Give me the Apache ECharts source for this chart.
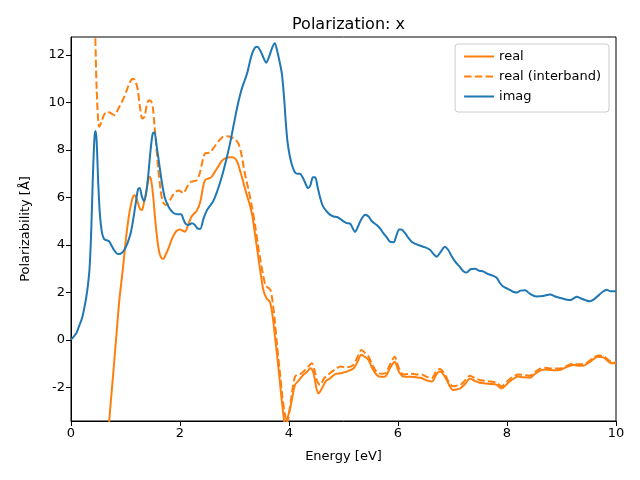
<!DOCTYPE html>
<html>
<head>
<meta charset="utf-8">
<script src="https://cdn.jsdelivr.net/npm/echarts@6/dist/echarts.min.js"></script>
<style>html,body{margin:0;padding:0;background:#fff}#c{width:640px;height:480px}</style>
</head>
<body>
<div id="c"></div>
<script>
const imagE = [0,0.1,0.15,0.2,0.24,0.28,0.31,0.34,0.37,0.40,0.43,0.45,0.47,0.50,0.53,0.57,0.61,0.66,0.70,0.75,0.80,0.86,0.92,0.98,1.04,1.10,1.15,1.19,1.23,1.26,1.30,1.34,1.38,1.42,1.46,1.50,1.53,1.57,1.62,1.67,1.72,1.77,1.82,1.88,1.95,2.02,2.06,2.10,2.15,2.22,2.27,2.32,2.37,2.43,2.49,2.55,2.61,2.68,2.77,2.85,2.92,2.98,3.04,3.10,3.15,3.19,3.24,3.28,3.33,3.38,3.42,3.47,3.52,3.58,3.63,3.69,3.74,3.78,3.82,3.87,3.91,3.94,3.97,4.01,4.05,4.1,4.15,4.2,4.25,4.3,4.35,4.39,4.44,4.48,4.52,4.57,4.62,4.68,4.75,4.82,4.88,4.94,5.0,5.06,5.12,5.17,5.21,5.27,5.33,5.40,5.46,5.52,5.61,5.67,5.73,5.80,5.85,5.92,5.97,6.02,6.06,6.13,6.19,6.25,6.32,6.40,6.50,6.59,6.66,6.71,6.78,6.86,6.92,6.98,7.05,7.12,7.20,7.26,7.33,7.41,7.49,7.57,7.65,7.73,7.81,7.87,7.93,7.99,8.06,8.12,8.18,8.25,8.33,8.42,8.54,8.66,8.79,8.9,9.02,9.1,9.16,9.22,9.28,9.36,9.44,9.52,9.60,9.68,9.75,9.83,9.9,10.0];
const imagV = [0.02,0.3,0.6,0.9,1.3,1.8,2.3,3.0,4.5,6.8,8.5,8.8,8.4,6.6,5.3,4.5,4.25,4.2,4.15,3.95,3.75,3.62,3.65,3.8,4.1,4.55,5.2,5.8,6.35,6.4,6.05,5.85,6.2,7.0,8.0,8.7,8.75,8.2,7.4,6.6,6.0,5.7,5.5,5.35,5.3,5.3,5.1,4.9,4.84,4.92,4.85,4.7,4.68,5.1,5.45,5.65,5.85,6.25,6.9,7.6,8.3,9.0,9.7,10.3,10.7,10.95,11.3,11.7,12.1,12.32,12.35,12.2,11.95,11.68,11.9,12.3,12.5,12.2,11.8,11.2,10.2,9.2,8.4,7.8,7.4,7.1,7.0,7.0,6.85,6.6,6.4,6.5,6.85,6.85,6.5,6.0,5.65,5.45,5.28,5.2,5.18,5.1,5.0,4.92,4.9,4.7,4.55,4.8,5.1,5.28,5.2,5.0,4.84,4.7,4.5,4.3,4.14,4.12,4.4,4.65,4.65,4.5,4.3,4.14,4.05,3.98,3.9,3.79,3.6,3.51,3.7,3.93,3.8,3.55,3.3,3.12,2.9,2.84,2.98,3.0,2.92,2.88,2.78,2.72,2.62,2.4,2.25,2.18,2.1,2.02,2.0,2.08,2.1,1.95,1.83,1.85,1.92,1.82,1.75,1.7,1.68,1.75,1.82,1.75,1.68,1.63,1.72,1.88,2.02,2.12,2.05,2.05];

const realE = [0.66,0.70,0.765,0.826,0.887,0.95,1.01,1.06,1.10,1.14,1.17,1.21,1.26,1.30,1.34,1.38,1.42,1.45,1.48,1.51,1.54,1.57,1.61,1.65,1.69,1.74,1.80,1.86,1.93,2.0,2.05,2.09,2.15,2.21,2.27,2.31,2.37,2.42,2.46,2.52,2.57,2.63,2.70,2.77,2.83,2.90,2.96,3.01,3.06,3.10,3.15,3.19,3.24,3.28,3.33,3.38,3.43,3.48,3.53,3.59,3.65,3.70,3.74,3.78,3.83,3.88,3.93,3.97,4.02,4.07,4.11,4.18,4.26,4.33,4.39,4.45,4.50,4.54,4.60,4.68,4.75,4.84,4.94,5.06,5.18,5.25,5.33,5.40,5.46,5.53,5.61,5.69,5.76,5.85,5.94,6.01,6.10,6.22,6.34,6.43,6.53,6.62,6.71,6.77,6.86,6.94,7.01,7.08,7.14,7.23,7.32,7.41,7.50,7.6,7.7,7.81,7.90,7.98,8.06,8.14,8.21,8.30,8.42,8.5,8.6,8.70,8.83,8.97,9.08,9.22,9.30,9.40,9.50,9.60,9.67,9.77,9.85,9.92,10.0];
const realV = [-5.0,-3.45,-1.68,0.0,1.68,2.95,4.3,5.2,5.7,6.05,6.1,5.9,5.55,5.47,5.8,6.25,6.75,6.88,6.6,6.0,5.2,4.5,3.8,3.48,3.42,3.6,3.93,4.3,4.58,4.65,4.6,4.56,4.85,5.19,5.35,5.45,5.8,6.4,6.74,6.8,6.85,7.05,7.3,7.55,7.65,7.7,7.7,7.65,7.45,7.15,6.75,6.4,6.0,5.7,5.2,4.4,3.6,2.8,2.1,1.75,1.6,1.0,0.2,-0.6,-1.7,-2.8,-3.6,-3.3,-2.9,-2.3,-1.89,-1.7,-1.47,-1.35,-1.19,-1.4,-2.0,-2.25,-2.05,-1.72,-1.62,-1.45,-1.40,-1.33,-1.2,-0.95,-0.62,-0.72,-0.84,-1.2,-1.47,-1.55,-1.54,-1.2,-0.91,-1.3,-1.54,-1.55,-1.57,-1.6,-1.7,-1.75,-1.42,-1.33,-1.54,-1.9,-2.1,-2.08,-2.04,-1.85,-1.62,-1.72,-1.80,-1.83,-1.85,-1.89,-2.04,-1.9,-1.72,-1.6,-1.54,-1.57,-1.59,-1.45,-1.3,-1.24,-1.27,-1.26,-1.15,-1.05,-1.08,-1.08,-0.95,-0.78,-0.70,-0.73,-0.88,-0.98,-0.98];

const interE = [0.43,0.446,0.47,0.50,0.52,0.56,0.61,0.67,0.73,0.80,0.87,0.95,1.02,1.08,1.13,1.17,1.22,1.26,1.31,1.35,1.39,1.43,1.47,1.50,1.53,1.56,1.60,1.64,1.68,1.73,1.77,1.82,1.87,1.93,1.97,2.02,2.06,2.12,2.17,2.21,2.27,2.31,2.36,2.42,2.46,2.51,2.55,2.62,2.70,2.79,2.87,2.95,3.01,3.07,3.12,3.16,3.19,3.25,3.32,3.38,3.43,3.47,3.52,3.57,3.62,3.66,3.70,3.74,3.78,3.83,3.88,3.93,3.965,4.0,4.05,4.11,4.17,4.23,4.30,4.36,4.42,4.47,4.52,4.57,4.65,4.75,4.84,4.94,5.06,5.18,5.25,5.33,5.40,5.46,5.53,5.61,5.69,5.76,5.85,5.94,6.01,6.10,6.22,6.34,6.43,6.53,6.62,6.71,6.77,6.86,6.94,7.01,7.08,7.14,7.23,7.32,7.41,7.50,7.6,7.7,7.81,7.90,7.98,8.06,8.14,8.21,8.30,8.42,8.5,8.6,8.70,8.83,8.97,9.08,9.22,9.30,9.40,9.50,9.60,9.67,9.77,9.85,9.92,10.0];
const interV = [14.5,12.8,10.6,9.2,8.98,9.2,9.5,9.61,9.55,9.47,9.75,10.1,10.5,10.85,11.0,10.95,10.6,9.9,9.33,9.4,9.9,10.1,10.05,9.82,9.1,8.3,7.2,6.4,5.85,5.7,5.7,5.9,6.1,6.25,6.3,6.25,6.18,6.4,6.6,6.67,6.7,6.74,7.0,7.6,7.86,7.88,7.89,8.1,8.35,8.56,8.58,8.53,8.45,8.28,7.9,7.4,7.02,6.4,5.61,4.8,4.0,3.44,2.8,2.3,2.2,2.1,1.6,0.8,-0.2,-1.3,-2.4,-3.2,-3.5,-3.1,-2.3,-1.54,-1.45,-1.40,-1.25,-1.1,-0.98,-1.3,-1.75,-1.89,-1.6,-1.40,-1.25,-1.12,-1.15,-1.05,-0.75,-0.42,-0.55,-0.7,-1.05,-1.35,-1.42,-1.4,-1.05,-0.70,-1.15,-1.45,-1.42,-1.45,-1.45,-1.55,-1.6,-1.28,-1.22,-1.45,-1.8,-1.95,-1.92,-1.9,-1.7,-1.5,-1.6,-1.68,-1.72,-1.75,-1.8,-1.95,-1.8,-1.62,-1.5,-1.45,-1.47,-1.5,-1.37,-1.22,-1.17,-1.2,-1.2,-1.1,-1.0,-1.02,-1.02,-0.9,-0.72,-0.65,-0.68,-0.82,-0.93,-0.95];

const xTicks = [0,2,4,6,8,10];
const yTicks = [-2,0,2,4,6,8,10,12];
const seriesNames = ['real','real (interband)','imag'];

const zip = (a,b) => a.map((x,i)=>[x,b[i]]);
const FONT = 'DejaVu Sans';
const ORANGE = '#ff7f0e', BLUE = '#1f77b4';

const chart = echarts.init(document.getElementById('c'), null, {renderer:'canvas'});
chart.setOption({
  animation: false,
  backgroundColor: '#ffffff',
  textStyle: {fontFamily: FONT},
  title: {
    text: 'Polarization: x',
    left: 343.5, top: 12, textAlign: 'center',
    textStyle: {fontFamily: FONT, fontSize: 16, fontWeight: 'normal', color: '#000'}
  },
  grid: {left: 71, right: 24, top: 37, bottom: 59, show: true, borderColor: '#000', borderWidth: 1, backgroundColor: 'transparent'},
  legend: {
    orient: 'vertical', right: 31, top: 44,
    data: seriesNames,
    itemWidth: 30, itemHeight: 12, itemGap: 7,
    padding: [6, 8, 9, 8],
    backgroundColor: 'rgba(255,255,255,0.8)',
    borderColor: '#cccccc', borderWidth: 1, borderRadius: 3,
    itemStyle: {opacity: 0, borderWidth: 0},
    textStyle: {fontFamily: FONT, fontSize: 13, color: '#000'}
  },
  xAxis: {
    type: 'value', min: 0, max: 10, interval: 2,
    name: 'Energy [eV]', nameLocation: 'middle', nameGap: 29,
    nameTextStyle: {fontFamily: FONT, fontSize: 13, color: '#000'},
    axisLine: {show: true, onZero: false, lineStyle: {color: '#000', width: 1}},
    axisTick: {show: true, length: 5, lineStyle: {color: '#000'}},
    axisLabel: {color: '#000', fontFamily: FONT, fontSize: 13, margin: 6, customValues: xTicks},
    splitLine: {show: false}
  },
  yAxis: {
    type: 'value', min: -3.41, max: 12.76,
    name: 'Polarizability [Å]', nameLocation: 'middle', nameGap: 39,
    nameTextStyle: {fontFamily: FONT, fontSize: 13, color: '#000'},
    axisLine: {show: true, onZero: false, lineStyle: {color: '#000', width: 1}},
    axisTick: {show: true, length: 5, lineStyle: {color: '#000'}, customValues: yTicks},
    axisLabel: {color: '#000', fontFamily: FONT, fontSize: 13, margin: 6, customValues: yTicks},
    splitLine: {show: false}
  },
  series: [
    {name: seriesNames[0], type: 'line', data: zip(realE, realV), showSymbol: false, symbol: 'none', smooth: 0.3, clip: true,
     lineStyle: {color: ORANGE, width: 2}, itemStyle: {color: ORANGE}},
    {name: seriesNames[1], type: 'line', data: zip(interE, interV), showSymbol: false, symbol: 'none', smooth: 0.3, clip: true,
     lineStyle: {color: ORANGE, width: 2, type: [7.5, 3.2]}, itemStyle: {color: ORANGE}},
    {name: seriesNames[2], type: 'line', data: zip(imagE, imagV), showSymbol: false, symbol: 'none', smooth: 0.3, clip: true,
     lineStyle: {color: BLUE, width: 2}, itemStyle: {color: BLUE}}
  ]
});
</script>
</body>
</html>
